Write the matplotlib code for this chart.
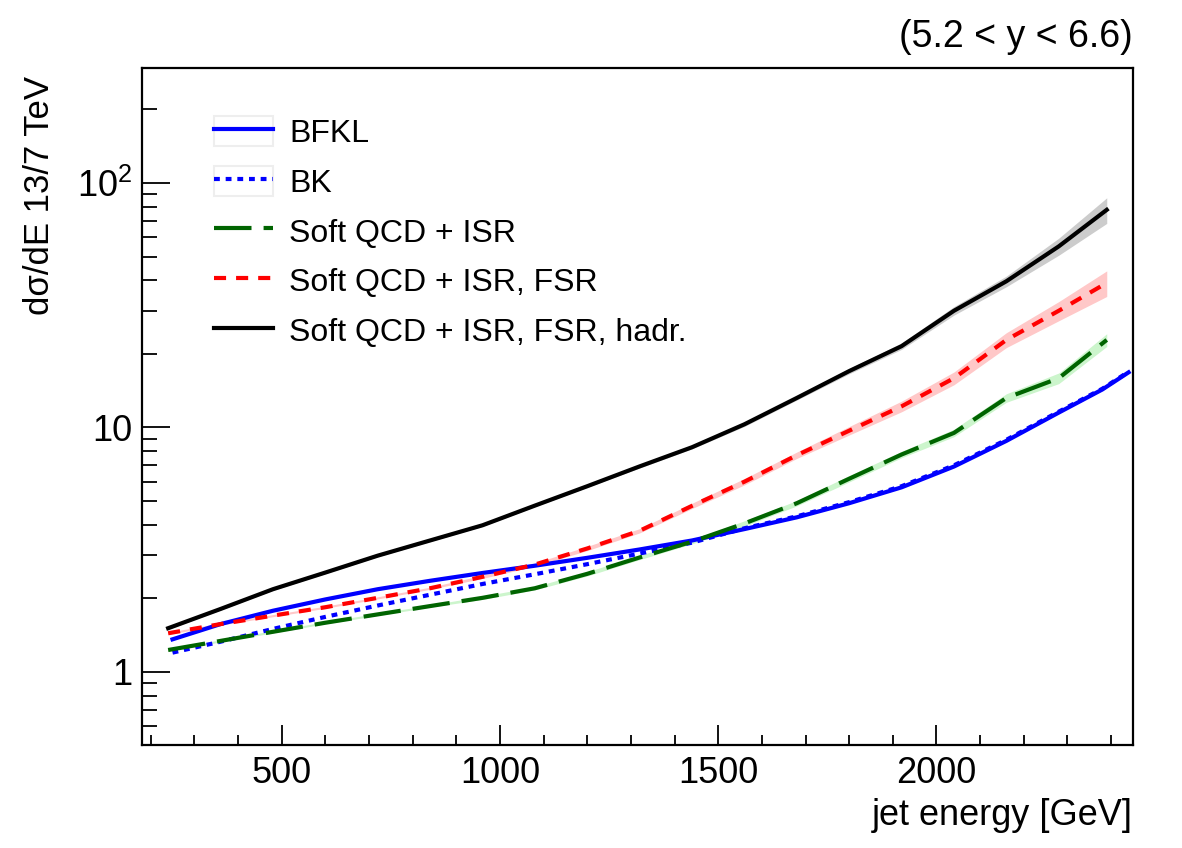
import numpy as np
import matplotlib
matplotlib.use("Agg")
from matplotlib import pyplot as plt
from matplotlib.patches import Patch
from matplotlib.ticker import FixedLocator, NullFormatter, MultipleLocator

plt.rcParams['font.family'] = ['Liberation Sans', 'DejaVu Sans']
plt.rcParams['mathtext.fontset'] = 'custom'
plt.rcParams['mathtext.rm'] = 'Liberation Sans'
plt.rcParams['mathtext.it'] = 'Liberation Sans:italic'

# jet energy bin centres (GeV) for the MC histograms
energy = [240, 360, 480, 600, 720, 840, 960, 1080, 1200, 1320, 1440,
          1560, 1680, 1800, 1920, 2040, 2160, 2280, 2390]
hadr = [1.51, 1.81, 2.18, 2.55, 2.99, 3.45, 3.98, 4.79, 5.75, 6.93, 8.3,
        10.3, 13.2, 17.0, 21.5, 30.0, 39.6, 55.0, 77.6]
hadr_err = [0.01, 0.01, 0.01, 0.01, 0.01, 0.01, 0.01, 0.01, 0.01, 0.015, 0.015,
            0.02, 0.02, 0.025, 0.03, 0.04, 0.05, 0.08, 0.12]
fsr = [1.44, 1.57, 1.70, 1.84, 2.01, 2.20, 2.45, 2.75, 3.20, 3.78, 4.78,
       6.0, 7.7, 9.7, 12.2, 15.9, 22.8, 30.0, 39.0]
fsr_err = [0.01, 0.01, 0.01, 0.01, 0.01, 0.01, 0.015, 0.015, 0.02, 0.02, 0.025,
           0.03, 0.03, 0.04, 0.05, 0.06, 0.07, 0.09, 0.12]
isr = [1.23, 1.34, 1.46, 1.59, 1.72, 1.86, 2.01, 2.20, 2.52, 2.94, 3.41,
       4.05, 4.90, 6.17, 7.75, 9.5, 13.2, 15.9, 22.8]
isr_err = [0.01, 0.01, 0.01, 0.01, 0.01, 0.01, 0.015, 0.015, 0.02, 0.02, 0.02,
           0.025, 0.025, 0.03, 0.03, 0.035, 0.04, 0.05, 0.06]

# theory curves
energy_th = [250, 360, 480, 600, 720, 840, 960, 1080, 1200, 1320, 1440,
             1560, 1680, 1800, 1920, 2040, 2160, 2280, 2380, 2440]
bfkl = [1.36, 1.57, 1.78, 1.98, 2.18, 2.36, 2.54, 2.72, 2.93, 3.17, 3.45,
        3.84, 4.29, 4.90, 5.69, 6.92, 8.81, 11.5, 14.3, 16.8]
bk = [1.20, 1.33, 1.50, 1.68, 1.87, 2.07, 2.29, 2.51, 2.76, 3.05, 3.38,
      3.87, 4.33, 4.95, 5.75, 7.0, 8.9, 11.6, 14.4, 16.9]

fig = plt.figure(figsize=(11.82, 8.48), dpi=100)
ax = fig.add_axes([0.1201, 0.1215, 0.8384, 0.7983])

def band(x, y, err, color):
    y = np.array(y)
    e = np.array(err)
    ax.fill_between(x, y * (1 - e), y * (1 + e), color=color, lw=0, zorder=1)

band(energy, isr, isr_err, '#ccf5cc')
band(energy, fsr, fsr_err, '#ffc8c8')
band(energy, hadr, hadr_err, '#cccccc')

lw = 3.0
l_bfkl, = ax.plot(energy_th, bfkl, color='#0000ff', lw=lw, zorder=3)
l_bk, = ax.plot(energy_th, bk, color='#0000ff', lw=lw, ls=(0, (1.4, 1.4)), zorder=3)
l_isr, = ax.plot(energy, isr, color='#006400', lw=lw, ls=(0, (9, 2.9)), zorder=3)
l_fsr, = ax.plot(energy, fsr, color='#ff0000', lw=lw, ls=(0, (2.9, 2.4)), zorder=3)
l_hadr, = ax.plot(energy, hadr, color='black', lw=lw, zorder=3)

ax.set_yscale('log')
ax.set_xlim(180, 2450)
ax.set_ylim(0.503, 295)

ax.xaxis.set_major_locator(FixedLocator([500, 1000, 1500, 2000]))
ax.xaxis.set_minor_locator(MultipleLocator(100))
ax.yaxis.set_major_locator(FixedLocator([1, 10, 100]))
ax.set_yticklabels(['1', '10', r'$10^{2}$'])
minor = [m * 10.0 ** k for k in range(-1, 3) for m in range(2, 10)]
ax.yaxis.set_minor_locator(FixedLocator(minor))
ax.yaxis.set_minor_formatter(NullFormatter())

ax.tick_params(which='both', direction='in', top=False, right=False,
               labelsize=26, width=1.3)
ax.tick_params(axis='x', which='major', length=14.5, pad=8)
ax.tick_params(axis='x', which='minor', length=7.5)
ax.tick_params(axis='y', which='major', length=20, pad=7)
ax.tick_params(axis='y', which='minor', length=11)
for s in ax.spines.values():
    s.set_linewidth(1.6)

ax.set_xlabel('jet energy [GeV]', fontsize=26, loc='right')
ax.xaxis.set_label_coords(1.0, -0.078)
ax.set_ylabel('dσ/dE 13/7 TeV', fontsize=25, loc='top')
ax.yaxis.set_label_coords(-0.087, 0.988)
ax.set_title('(5.2 < y < 6.6)', fontsize=27, loc='right', pad=15)

box = dict(facecolor='white', edgecolor='#eeeeee', lw=1.5)
handles = [(Patch(**box), l_bfkl), (Patch(**box), l_bk), l_isr, l_fsr, l_hadr]
labels = ['BFKL', 'BK', 'Soft QCD + ISR', 'Soft QCD + ISR, FSR',
          'Soft QCD + ISR, FSR, hadr.']
ax.legend(handles, labels, loc='upper left', bbox_to_anchor=(0.044, 0.972),
          frameon=False, fontsize=23, handlelength=1.85, handleheight=1.1,
          labelspacing=0.52, handletextpad=0.5)

fig.savefig('out.png', dpi=100)
